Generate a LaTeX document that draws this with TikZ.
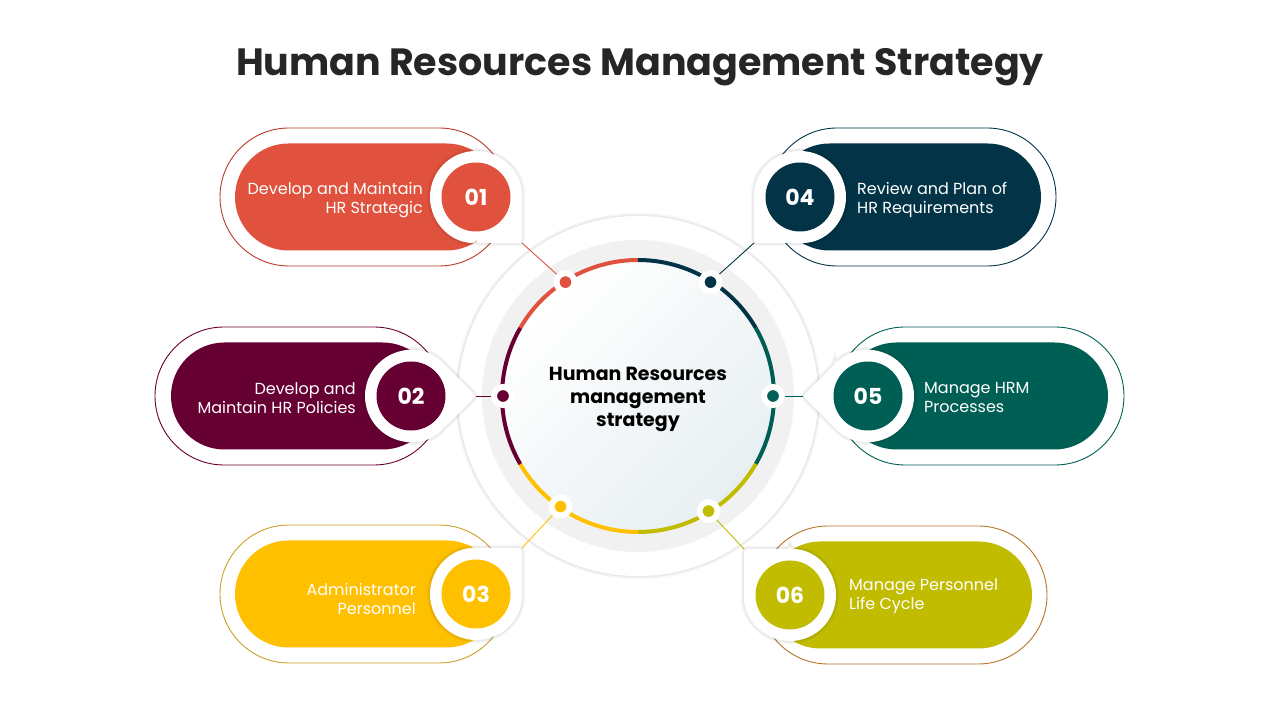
\documentclass[tikz,border=0pt]{standalone}
\usepackage{fontspec}
\setmainfont{Poppins}
\usetikzlibrary{positioning, calc}
\definecolor{cred}{HTML}{E0523E}
\definecolor{credline}{HTML}{B8392A}
\definecolor{cmaroon}{HTML}{660033}
\definecolor{cyellow}{HTML}{FFC000}
\definecolor{cyellowline}{HTML}{C9A227}
\definecolor{cnavy}{HTML}{023346}
\definecolor{cteal}{HTML}{005F55}
\definecolor{colive}{HTML}{C1BC00}
\definecolor{coliveline}{HTML}{B8742A}
\definecolor{ctitle}{HTML}{262626}
\definecolor{cgray}{HTML}{F1F1F1}
\definecolor{cgrad}{HTML}{E8EFF2}
\tikzset{soft/.style={preaction={draw=black, draw opacity=0.04, line width=6pt},
  preaction={draw=black, draw opacity=0.05, line width=3pt}},
outpill/.style={draw, line width=0.9pt, fill=white, rounded corners=69pt, minimum width=288pt, minimum height=138pt},
inpill/.style={rounded corners=53.5pt, minimum width=265pt, minimum height=107pt},
tear/.style={fill=white, rounded corners=3pt, soft},
num/.style={circle, minimum size=69pt, inner sep=0pt, text=white, font=\bfseries\fontsize{22}{22}\selectfont},
dotw/.style={circle, draw=white, line width=6pt, minimum size=18pt, inner sep=0pt, soft},
ring/.style={line width=4pt},
conn/.style={line width=0.9pt},
txt/.style={text=white, inner sep=0pt, font=\fontsize{16}{19}\selectfont}
}
\begin{document}
\begin{tikzpicture}[x=1pt, y=1pt]
\useasboundingbox (0,0) rectangle (1280,720);
\node[font=\bfseries\fontsize{38}{42}\selectfont, text=ctitle] (title) at (640,653) {Human Resources Management Strategy};
% pills, left side then right side
\node[outpill, draw=credline] (p1) at (364,523) {};
\node[inpill, fill=cred] (q1) at (367.5,523) {};
\node[outpill, draw=cmaroon] (p2) at (299,324) {};
\node[inpill, fill=cmaroon] (q2) at (303.5,324) {};
\node[outpill, draw=cyellowline] (p3) at (364,126) {};
\node[inpill, fill=cyellow] (q3) at (367.5,126) {};
\node[outpill, draw=cnavy] (p4) at (912,523) {};
\node[inpill, fill=cnavy] (q4) at (908.5,523) {};
\node[outpill, draw=cteal] (p5) at (980,324) {};
\node[inpill, fill=cteal] (q5) at (975.5,324) {};
\node[outpill, draw=coliveline] (p6) at (903,125) {};
\node[inpill, fill=colive] (q6) at (899.5,125) {};
% the centre circle
\coordinate (c) at (638,324);
\fill[white, soft] (c) circle (180);
\fill[cgray] (c) circle (156);
\shade[top color=white, bottom color=cgrad, shading angle=45] (c) circle (135);
\draw[ring, cred] ($(c)+(90:136)$) arc[start angle=90, end angle=150, radius=136];
\draw[ring, cnavy] ($(c)+(30:136)$) arc[start angle=30, end angle=90, radius=136];
\draw[ring, cteal] ($(c)+(-30:136)$) arc[start angle=-30, end angle=30, radius=136];
\draw[ring, colive] ($(c)+(-90:136)$) arc[start angle=-90, end angle=-30, radius=136];
\draw[ring, cyellow] ($(c)+(-150:136)$) arc[start angle=-150, end angle=-90, radius=136];
\draw[ring, cmaroon] ($(c)+(150:136)$) arc[start angle=150, end angle=210, radius=136];
\node[font=\bfseries\fontsize{19}{23}\selectfont, align=center] (hrm) at (638,321) {Human Resources\\management\\strategy};
% dots on the ring
\node[dotw, fill=cred] (d1) at ($(c)+(122.5:135)$) {};
\node[dotw, fill=cmaroon] (d2) at ($(c)+(180:135)$) {};
\node[dotw, fill=cyellow] (d3) at ($(c)+(235:135)$) {};
\node[dotw, fill=cnavy] (d4) at ($(c)+(57.5:135)$) {};
\node[dotw, fill=cteal] (d5) at ($(c)+(0:135)$) {};
\node[dotw, fill=colive] (d6) at ($(c)+(301.5:135)$) {};
% badge tips
\coordinate (t1) at ($(476,523)+(-45:65)$);
\coordinate (t2) at ($(411,324)+(0:65)$);
\coordinate (t3) at ($(476,126)+(45:65)$);
\coordinate (t4) at ($(800,523)+(-135:65)$);
\coordinate (t5) at ($(868,324)+(180:65)$);
\coordinate (t6) at ($(790,125)+(135:65)$);
\draw[conn, cred] (t1) -- (d1);
\draw[conn, cmaroon] (t2) -- (d2);
\draw[conn, cyellow] (t3) -- (d3);
\draw[conn, cnavy] (t4) -- (d4);
\draw[conn, cteal] (t5) -- (d5);
\draw[conn, colive] (t6) -- (d6);
% white drops behind the numbers
\fill[tear, shift={(476,523)}, rotate=0] (0,-46) -- (46,-46) -- (46,0) arc[start angle=0, end angle=270, radius=46] -- cycle;
\fill[tear, shift={(411,324)}, rotate=45] (0,-46) -- (46,-46) -- (46,0) arc[start angle=0, end angle=270, radius=46] -- cycle;
\fill[tear, shift={(476,126)}, rotate=90] (0,-46) -- (46,-46) -- (46,0) arc[start angle=0, end angle=270, radius=46] -- cycle;
\fill[tear, shift={(800,523)}, rotate=-90] (0,-46) -- (46,-46) -- (46,0) arc[start angle=0, end angle=270, radius=46] -- cycle;
\fill[tear, shift={(868,324)}, rotate=225] (0,-46) -- (46,-46) -- (46,0) arc[start angle=0, end angle=270, radius=46] -- cycle;
\fill[tear, shift={(790,125)}, rotate=180] (0,-46) -- (46,-46) -- (46,0) arc[start angle=0, end angle=270, radius=46] -- cycle;
\node[num, fill=cred] (b1) at (476,523) {01};
\node[num, fill=cmaroon] (b2) at (411,324) {02};
\node[num, fill=cyellow] (b3) at (476,126) {03};
\node[num, fill=cnavy] (b4) at (800,523) {04};
\node[num, fill=cteal] (b5) at (868,324) {05};
\node[num, fill=colive] (b6) at (790,125) {06};
% texts
\node[txt, anchor=east, align=right] (x1) at (423,520) {Develop and Maintain\\HR Strategic};
\node[txt, anchor=east, align=right] (x2) at (356,322) {Develop and\\Maintain HR Policies};
\node[txt, anchor=east, align=right] (x3) at (416,121) {Administrator\\Personnel};
\node[txt, anchor=west, align=left] (x4) at (857,520) {Review and Plan of\\HR Requirements};
\node[txt, anchor=west, align=left] (x5) at (924,322) {Manage HRM\\Processes};
\node[txt, anchor=west, align=left] (x6) at (849,124) {Manage Personnel\\Life Cycle};
\end{tikzpicture}
\end{document}
